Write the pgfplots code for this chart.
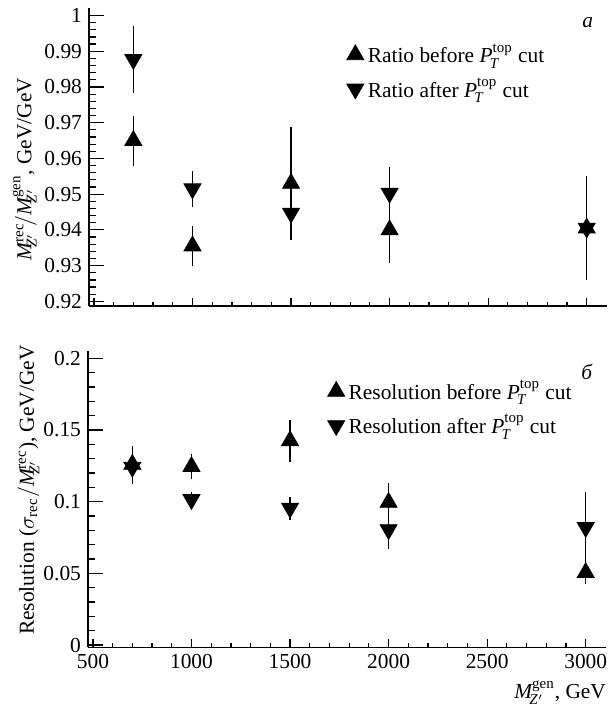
\documentclass[border=0pt]{standalone}
\usepackage{fontspec}
\setmainfont{Liberation Serif}
\usepackage{pgfplots}
\pgfplotsset{compat=1.18}

\pgfplotsset{
  panel/.style={
    scale only axis,
    width=259pt,
    axis lines=left,
    axis line style={line width=0.7pt, -},
    tick align=inside,
    tick style={black, line width=0.6pt},
    xmin=475, xmax=3103,
    xtick={500,1000,...,3000},
    minor x tick num=4,
    minor y tick num=4,
    scaled x ticks=false, scaled y ticks=false,
    xtick style={/pgfplots/major tick length=4pt, /pgfplots/minor tick length=2pt},
    ytick style={/pgfplots/major tick length=7.5pt, /pgfplots/minor tick length=3.5pt},
    /pgf/number format/fixed,
    /pgf/number format/1000 sep={},
    /pgf/number format/assume math mode=true,
    tick label style={font=\fontsize{10.7}{12}\selectfont},
    label style={font=\fontsize{10.7}{12}\selectfont},
    legend style={draw=none, fill=none, inner sep=0pt,
      font=\fontsize{10.7}{12}\selectfont, row sep=2pt,
      /tikz/every even column/.append style={column sep=3.5pt}},
    legend cell align=left,
    legend image code/.code={\draw[#1] plot coordinates {(4.5pt,0pt)};},
  },
  up/.style={only marks, mark=triangle*, mark size=4.9pt, color=black,
    mark options={fill=black, draw=black},
    error bars/.cd, y dir=both, y explicit,
    error bar style={line width=0.75pt, black}, error mark=none},
  dn/.style={only marks, mark=triangle*, mark size=4.9pt, color=black,
    mark options={fill=black, draw=black, rotate=180},
    error bars/.cd, y dir=both, y explicit,
    error bar style={line width=0.75pt, black}, error mark=none},
}

\begin{document}
\begin{tikzpicture}
  % top panel: ratio
  \begin{axis}[panel,
      at={(44.5pt,199.5pt)}, anchor=south west,
      height=149pt,
      ymin=0.9187, ymax=1.0021,
      ytick={0.92,0.93,...,1.001},
      xticklabels={},
      yticklabel style={/pgf/number format/precision=2},
      ylabel={$\mathit{M}^{\mathrm{rec}}_{\!\!\mathit{Z}'}\!/\mathit{M}^{\mathrm{gen}}_{\!\!\mathit{Z}'}$, GeV/GeV},
      ylabel style={at={(axis description cs:-0.124,0.46)}, anchor=center},
      legend style={at={(axis description cs:0.497,0.895)}, anchor=north west},
    ]
    \addplot[up] coordinates {
      (700,0.9650)  +- (0,0.0070)
      (1000,0.9355) +- (0,0.0055)
      (1500,0.9530) +- (0,0.0157)
      (2000,0.9400) +- (0,0.0093)
      (3000,0.9405) +- (0,0.0145)
    };
    \addlegendentry{Ratio before $\mathit{P}_{\!\mathit{T}}^{\mathrm{top}}$ cut}
    \addplot[dn] coordinates {
      (700,0.9877)  +- (0,0.0094)
      (1000,0.9515) +- (0,0.0050)
      (1500,0.9447) +- (0,0.0068)
      (2000,0.9503) +- (0,0.0074)
      (3000,0.9405) +- (0,0.0080)
    };
    \addlegendentry{Ratio after $\mathit{P}_{\!\mathit{T}}^{\mathrm{top}}$ cut}
    \node[font=\fontsize{10.7}{12}\selectfont\itshape] at (axis description cs:0.963,0.95) {a};
  \end{axis}

  % bottom panel: resolution
  \begin{axis}[panel,
      at={(44pt,28.85pt)}, anchor=south west,
      height=148.3pt,
      ymin=-0.0016, ymax=0.2053,
      ytick={0,0.05,0.1,0.15,0.2},
      xlabel={$\mathit{M}^{\mathrm{gen}}_{\!\mathit{Z}'}$, GeV},
      xlabel style={at={(axis description cs:1,0)}, anchor=north east, yshift=-13pt, xshift=3.5pt},
      ylabel={Resolution ($\sigma_{\mathrm{rec}}/\mathit{M}^{\mathrm{rec}}_{\!\!\mathit{Z}'}$), GeV/GeV},
      ylabel style={at={(axis description cs:-0.115,0.53)}, anchor=center},
      legend style={at={(axis description cs:0.462,0.915)}, anchor=north west},
    ]
    \addplot[up] coordinates {
      (700,0.1260)  +- (0,0.0130)
      (1000,0.1245) +- (0,0.0090)
      (1500,0.1425) +- (0,0.0145)
      (2000,0.0995) +- (0,0.0135)
      (3000,0.0505) +- (0,0.0080)
    };
    \addlegendentry{Resolution before $\mathit{P}_{\!\mathit{T}}^{\mathrm{top}}$ cut}
    \addplot[dn] coordinates {
      (700,0.1240)  +- (0,0.0120)
      (1000,0.1015) +- (0,0.0050)
      (1500,0.0955) +- (0,0.0080)
      (2000,0.0805) +- (0,0.0135)
      (3000,0.0820) +- (0,0.0250)
    };
    \addlegendentry{Resolution after $\mathit{P}_{\!\mathit{T}}^{\mathrm{top}}$ cut}
    \node[font=\fontsize{10.7}{12}\selectfont\itshape] at (axis description cs:0.963,0.928) {б};
  \end{axis}
  \pgfresetboundingbox
  \path (0,0) rectangle (305pt,352.5pt);
\end{tikzpicture}
\end{document}
